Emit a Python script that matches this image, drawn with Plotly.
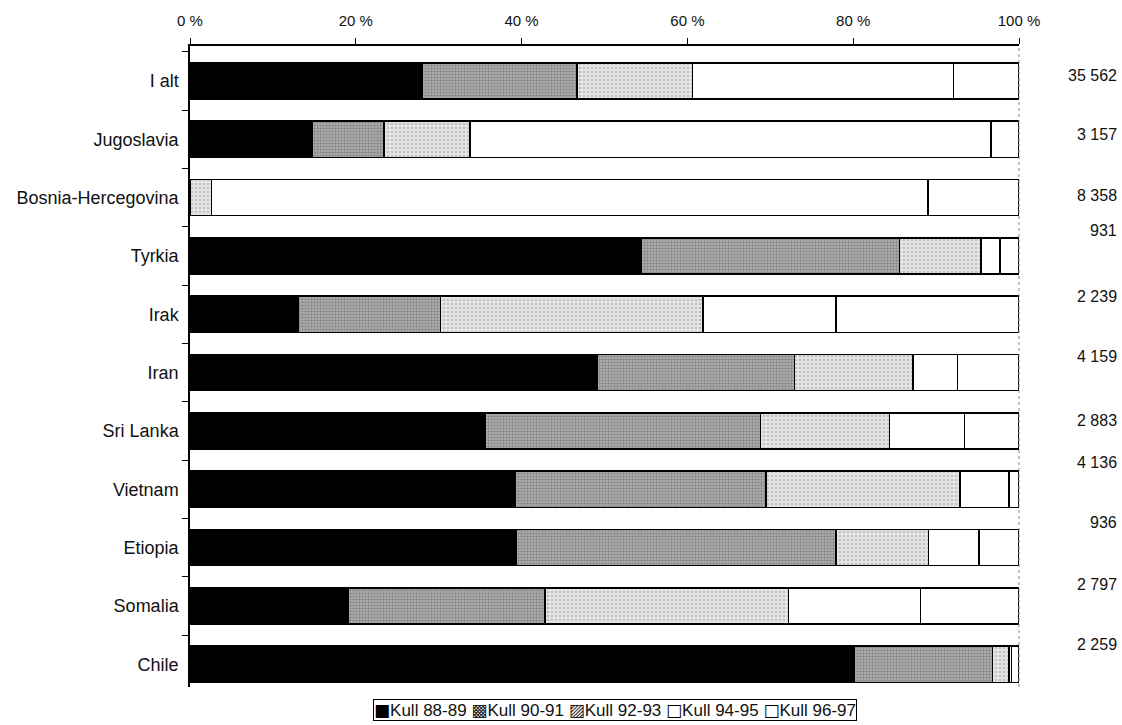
import plotly.graph_objects as go

categories = ["I alt", "Jugoslavia", "Bosnia-Hercegovina", "Tyrkia", "Irak", "Iran",
              "Sri Lanka", "Vietnam", "Etiopia", "Somalia", "Chile"]
series_names = ["Kull 88-89", "Kull 90-91", "Kull 92-93", "Kull 94-95", "Kull 96-97"]
kull_88_89 = [28.0, 14.8, 0.0, 54.4, 13.1, 49.1, 35.6, 39.2, 39.3, 19.1, 80.1]
kull_90_91 = [18.7, 8.6, 0.0, 31.2, 17.1, 23.8, 33.2, 30.3, 38.6, 23.7, 16.7]
kull_92_93 = [13.9, 10.4, 2.6, 9.8, 31.7, 14.3, 15.6, 23.4, 11.2, 29.4, 2.0]
kull_94_95 = [31.5, 62.8, 86.4, 2.3, 16.0, 5.4, 9.0, 5.9, 6.1, 15.9, 0.3]
kull_96_97 = [7.9, 3.4, 11.0, 2.3, 22.1, 7.4, 6.6, 1.2, 4.8, 11.9, 0.9]
totals = ["35 562", "3 157", "8 358", "931", "2 239", "4 159", "2 883", "4 136", "936", "2 797", "2 259"]
tick_vals = [0, 20, 40, 60, 80, 100]
tick_text = ["0 %", "20 %", "40 %", "60 %", "80 %", "100 %"]

total_shift = [6, 5, 2, 25, 18, 16, 10, 27, 25, 21, 20]

series = [kull_88_89, kull_90_91, kull_92_93, kull_94_95, kull_96_97]
styles = [
    dict(color="#000000", pattern=None, glyph="■", gcolor="#000"),
    dict(color="#9a9a9a", pattern=dict(shape=".", fgcolor="#5a5a5a", bgcolor="#b4b4b4", size=3, solidity=0.5),
         glyph="▩", gcolor="#222"),
    dict(color="#d6d6d6", pattern=dict(shape=".", fgcolor="#9a9a9a", bgcolor="#e6e6e6", size=4, solidity=0.35),
         glyph="▨", gcolor="#222"),
    dict(color="#ffffff", pattern=None, glyph="□", gcolor="#000"),
    dict(color="#ffffff", pattern=None, glyph="□", gcolor="#000"),
]

FONT = "Liberation Sans, Arial, sans-serif"
fig = go.Figure()
for name, vals, st in zip(series_names, series, styles):
    marker = dict(color=st["color"], line=dict(color="#000000", width=1.5))
    if st["pattern"]:
        marker["pattern"] = st["pattern"]
    fig.add_trace(go.Bar(y=categories, x=vals, name=name, orientation="h",
                         marker=marker, width=0.62, showlegend=False))

for cat, txt, sh in zip(categories, totals, total_shift):
    fig.add_annotation(x=1.1206, xref="paper", y=cat, yref="y", text=txt,
                       showarrow=False, xanchor="right", yshift=sh,
                       font=dict(family=FONT, size=16, color="#111"))

# legend row built from the series names
legend_text = " ".join(
    f"<span style='font-family:DejaVu Sans;color:{st['gcolor']}'>{st['glyph']}</span>{name}"
    for name, st in zip(series_names, styles))
fig.add_annotation(x=0.513, xref="paper", y=0, yref="paper", yanchor="top", yshift=-12,
                   xanchor="center", text=legend_text, showarrow=False,
                   font=dict(family=FONT, size=17, color="#111"),
                   bordercolor="#000", borderwidth=1, borderpad=0, bgcolor="white")

fig.add_shape(type="line", xref="paper", yref="paper", x0=1, x1=1, y0=0, y1=1,
              line=dict(color="#888", width=1, dash="dot"))

fig.update_layout(
    barmode="stack",
    width=1122, height=725,
    margin=dict(l=190, r=103, t=43, b=38),
    paper_bgcolor="white", plot_bgcolor="white",
    font=dict(family=FONT, size=16, color="#111"),
    showlegend=False,
    bargap=0.38,
)
fig.update_xaxes(side="top", range=[0, 100], tickvals=tick_vals, ticktext=tick_text,
                 showgrid=False, zeroline=False, showline=True, linecolor="#000",
                 linewidth=1.5, ticks="outside", ticklen=6, tickcolor="#000",
                 tickfont=dict(size=15), ticklabelstandoff=6)
fig.update_yaxes(range=[10.39, -0.6], showgrid=False, zeroline=False, showline=True,
                 linecolor="#000", linewidth=1.5, ticks="outside", tickson="boundaries",
                 ticklen=6, tickcolor="#000", tickfont=dict(size=18), ticklabelstandoff=6)

fig.write_html("out.html", config={"displayModeBar": False},
               post_script="document.body.style.margin='0';document.body.style.overflow='hidden';")
